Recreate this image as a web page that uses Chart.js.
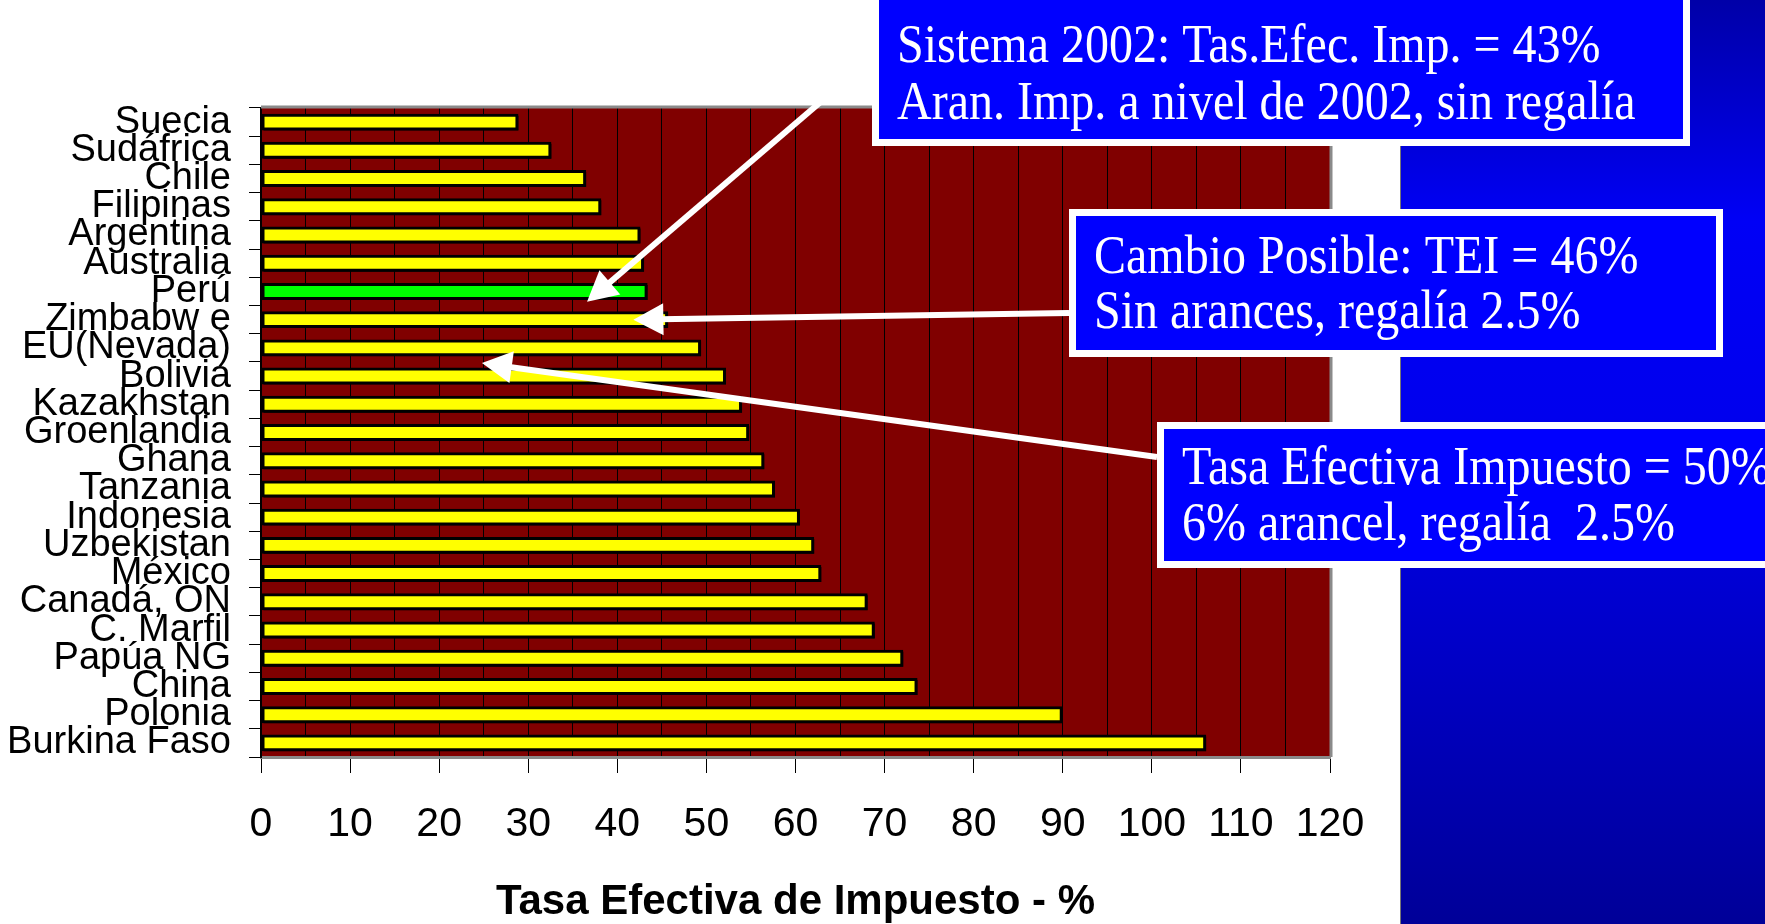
<!DOCTYPE html>
<html><head><meta charset="utf-8">
<script src="https://cdn.jsdelivr.net/npm/chart.js@4/dist/chart.umd.min.js"></script>
<style>
html,body{margin:0;padding:0;background:#fff;overflow:hidden;}
#wrap{position:relative;width:1765px;height:924px;}
#panel{position:absolute;left:1400px;top:0;width:365px;height:924px;background:linear-gradient(to bottom,#0000a8 0%,#0000f6 24%,#0000ee 45%,#0000c8 70%,#000098 100%);border-left:1px solid #777;}
canvas{position:absolute;left:0;top:0;}
</style></head><body>
<div id="wrap"><div id="panel"></div><canvas id="c" width="1765" height="924"></canvas></div>
<script>
const categories = ['Suecia','Sudáfrica','Chile','Filipinas','Argentina','Australia','Perú','Zimbabw e','EU(Nevada)','Bolivia','Kazakhstan','Groenlandia','Ghana','Tanzania','Indonesia','Uzbekistan','México','Canadá, ON','C. Marfil','Papúa NG','China','Polonia','Burkina Faso'];
const taxRates = [28.9, 32.6, 36.5, 38.2, 42.6, 43.0, 43.4, 45.7, 49.4, 52.2, 54.0, 54.8, 56.5, 57.7, 60.5, 62.1, 62.9, 68.1, 68.9, 72.1, 73.7, 90.0, 106.1];
const highlightCategory = 'Perú';
const xTickLabels = ['0','10','20','30','40','50','60','70','80','90','100','110','120'];
const axisTitle = 'Tasa Efectiva de Impuesto - %';
const noteLines = [
  ['Sistema 2002: Tas.Efec. Imp. = 43%', 'Aran. Imp. a nivel de 2002, sin regalía'],
  ['Cambio Posible: TEI = 46%', 'Sin arances, regalía 2.5%'],
  ['Tasa Efectiva Impuesto = 50%', '6% arancel, regalía  2.5%']
];
// arrow tips anchored in data space (value, category, fraction of a category step)
const arrowValues = [36.6, 41.8, 24.8];
const arrowCategories = ['Perú', 'Zimbabw e', 'Bolivia'];
const arrowShifts = [0.37, 0, -0.46];

// annotation layout (pixels)
const boxes = [
  {x1:872, y1:-10, x2:1690, y2:146, tx:897, ty:[62,119], ax:872, ay:58},
  {x1:1069, y1:209, x2:1723, y2:357, tx:1094, ty:[273,328], ax:1069, ay:313},
  {x1:1157, y1:422, x2:1790, y2:568, tx:1182, ty:[484,540], ax:1157, ay:457}
];

const decor = {
  id: 'decor',
  beforeDraw(chart) {
    const {ctx, chartArea: a} = chart;
    ctx.save();
    ctx.fillStyle = '#800000';
    ctx.fillRect(a.left, a.top, a.right - a.left, a.bottom - a.top);
    ctx.restore();
  },
  beforeDatasetsDraw(chart) {
    const ctx = chart.ctx;
    ctx.save();
    ctx.shadowColor = '#000000';
    ctx.shadowOffsetX = 2;
    ctx.shadowOffsetY = 2;
    ctx.shadowBlur = 0;
  },
  afterDatasetsDraw(chart) {
    const {ctx, chartArea: a} = chart;
    ctx.restore();
    ctx.save();
    ctx.strokeStyle = '#8a8a8a';
    ctx.lineWidth = 3;
    ctx.beginPath();
    ctx.moveTo(a.left, a.top - 1);
    ctx.lineTo(a.right + 1, a.top - 1);
    ctx.lineTo(a.right + 1, a.bottom);
    ctx.stroke();
    ctx.restore();
  },
  afterDraw(chart) {
    const ctx = chart.ctx;
    const xs = chart.scales.x, ys = chart.scales.y;
    const step = ys.getPixelForValue(1) - ys.getPixelForValue(0);
    ctx.save();
    arrowValues.forEach((v, i) => {
      const b = boxes[i];
      const tx = xs.getPixelForValue(v);
      const ty = ys.getPixelForValue(categories.indexOf(arrowCategories[i])) + arrowShifts[i] * step;
      const sx = b.ax, sy = b.ay;
      const ang = Math.atan2(ty - sy, tx - sx);
      const L = 30, W = 16;
      const bx = tx - L * Math.cos(ang), by = ty - L * Math.sin(ang);
      ctx.strokeStyle = '#fff';
      ctx.lineWidth = 6;
      ctx.lineCap = 'butt';
      ctx.beginPath();
      ctx.moveTo(sx, sy);
      ctx.lineTo(bx + 4 * Math.cos(ang), by + 4 * Math.sin(ang));
      ctx.stroke();
      ctx.fillStyle = '#fff';
      ctx.beginPath();
      ctx.moveTo(tx, ty);
      ctx.lineTo(bx - W * Math.sin(ang), by + W * Math.cos(ang));
      ctx.lineTo(bx + W * Math.sin(ang), by - W * Math.cos(ang));
      ctx.closePath();
      ctx.fill();
    });
    boxes.forEach((b, i) => {
      const bw = 7;
      ctx.fillStyle = '#ffffff';
      ctx.fillRect(b.x1, b.y1, b.x2 - b.x1, b.y2 - b.y1);
      ctx.fillStyle = '#0000ff';
      ctx.fillRect(b.x1 + bw, b.y1 + bw, b.x2 - b.x1 - 2 * bw, b.y2 - b.y1 - 2 * bw);
      ctx.fillStyle = '#ffffff';
      ctx.font = '54px "Liberation Serif", "Times New Roman", serif';
      ctx.textBaseline = 'alphabetic';
      ctx.textAlign = 'left';
      noteLines[i].forEach((t, j) => {
        ctx.save();
        ctx.translate(b.tx, b.ty[j]);
        ctx.scale(48 / 54, 1);
        ctx.fillText(t, 0, 0);
        ctx.restore();
      });
    });
    ctx.restore();
  }
};

Chart.defaults.font.family = '"Liberation Sans", Arial, sans-serif';

new Chart(document.getElementById('c'), {
  type: 'bar',
  data: {
    labels: categories,
    datasets: [{
      data: taxRates,
      backgroundColor: categories.map(c => c === highlightCategory ? '#00ff00' : '#ffff00'),
      borderColor: '#000000',
      borderWidth: 3,
      borderSkipped: false,
      barPercentage: 0.6,
      categoryPercentage: 1
    }]
  },
  options: {
    indexAxis: 'y',
    responsive: false,
    animation: false,
    devicePixelRatio: 1,
    layout: {padding: {left: 0, top: 108, right: 435, bottom: 0}},
    plugins: {legend: {display: false}, tooltip: {enabled: false}, title: {display: false}},
    scales: {
      x: {
        type: 'linear', position: 'bottom', min: 0, max: 120,
        ticks: {
          stepSize: 5, autoSkip: false, maxRotation: 0, minRotation: 0, color: '#000',
          font: {size: 41}, padding: 27,
          callback: (v) => (v % 10 === 0 ? xTickLabels[v / 10] : '')
        },
        grid: {
          color: '#000', lineWidth: 1, drawOnChartArea: true, drawTicks: true, tickLength: 16,
          tickColor: (c) => (c.tick && c.tick.value % 10 === 0) ? '#000' : 'rgba(0,0,0,0)', tickWidth: 1
        },
        border: {display: true, color: '#8a8a8a', width: 3},
        title: {display: true, text: axisTitle, color: '#000', font: {size: 42, weight: 'bold', lineHeight: 1.05}, padding: {top: 0, bottom: 0}},
        afterFit(s) { s.height = 167; }
      },
      y: {
        type: 'category', position: 'left',
        ticks: {autoSkip: false, color: '#000', font: {size: 38}, padding: 18},
        grid: {drawOnChartArea: false, drawTicks: true, tickLength: 12, tickColor: '#000', tickWidth: 1, offset: true},
        border: {display: true, color: '#000', width: 2},
        afterFit(s) { s.width = 261; }
      }
    }
  },
  plugins: [decor]
});
</script>
</body></html>
